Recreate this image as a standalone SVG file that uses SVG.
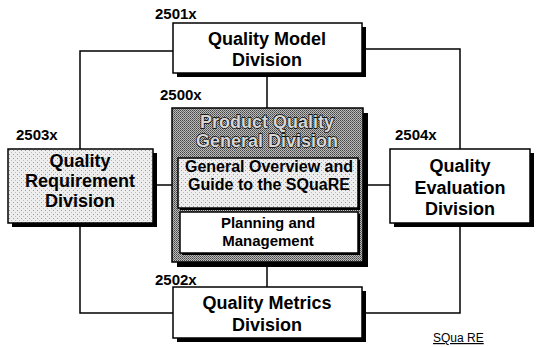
<svg xmlns="http://www.w3.org/2000/svg" width="537" height="347" viewBox="0 0 537 347">
<defs>
<pattern id="dither" width="2" height="2" patternUnits="userSpaceOnUse">
<rect width="2" height="2" fill="#bdbdbd"/>
<rect width="1" height="1" fill="#444"/>
<rect x="1" y="1" width="1" height="1" fill="#666"/>
</pattern>
<pattern id="speck" width="4" height="4" patternUnits="userSpaceOnUse">
<rect width="4" height="4" fill="#eeeeee"/>
<rect x="1" y="2" width="1" height="1" fill="#999"/>
<rect x="3" y="0" width="1" height="1" fill="#bbb"/>
</pattern>
</defs>
<style>
.box{stroke:#000;stroke-width:1.5}
.sh{fill:#000}
.lbl{font-family:"Liberation Sans",Arial,sans-serif;font-weight:bold;font-size:15px;fill:#000}
.t18{font-family:"Liberation Sans",Arial,sans-serif;font-weight:bold;font-size:18px;fill:#000;text-anchor:middle}
.t15{font-family:"Liberation Sans",Arial,sans-serif;font-weight:bold;font-size:15px;fill:#000;text-anchor:middle}
.emb{fill:#d6d6d6;stroke:#000;stroke-width:1.3;paint-order:stroke}
.con{fill:none;stroke:#000;stroke-width:1.5}
</style>
<rect width="537" height="347" fill="#fff"/>
<g id="connectors">
<polyline class="con" points="173,51 80,51 80,149"/>
<polyline class="con" points="362,49 460,49 460,149"/>
<polyline class="con" points="80,223 80,313 173,313"/>
<polyline class="con" points="362,313 460,313 460,223"/>
<line class="con" x1="153" y1="185" x2="172" y2="185"/>
<line class="con" x1="363" y1="185" x2="390" y2="185"/>
<line class="con" x1="267" y1="73" x2="267" y2="108"/>
<line class="con" x1="267" y1="262" x2="267" y2="287"/>
</g>
<g id="n2501">
<rect class="sh" x="177" y="27" width="189" height="50"/>
<rect class="box" x="173" y="23" width="189" height="50" fill="#fff"/>
<text class="t18" x="267" y="45">Quality Model</text>
<text class="t18" x="267" y="66">Division</text>
<text class="lbl" x="155" y="19">2501x</text>
</g>
<g id="n2500">
<rect class="sh" x="177" y="113" width="191" height="154"/>
<rect class="box" x="172" y="108" width="191" height="154" fill="url(#dither)"/>
<text class="t18 emb" x="267" y="128">Product Quality</text>
<text class="t18 emb" x="267" y="147">General Division</text>
<text class="lbl" x="160" y="100">2500x</text>
<g id="n2500a">
<rect class="sh" x="180" y="160" width="180" height="50"/>
<rect class="box" x="178" y="158" width="180" height="50" fill="url(#speck)"/>
<text class="t15" x="269" y="172" style="font-size:16px">General Overview and</text>
<text class="t15" x="269" y="190" style="font-size:16px">Guide to the SQuaRE</text>
</g>
<g id="n2500b">
<rect class="sh" x="182" y="214" width="178" height="41"/>
<rect class="box" x="180" y="212" width="178" height="41" fill="#fff"/>
<text class="t15" x="268" y="228">Planning and</text>
<text class="t15" x="268" y="246">Management</text>
</g>
</g>
<g id="n2503">
<rect class="sh" x="12" y="153" width="145" height="74"/>
<rect class="box" x="8" y="149" width="145" height="74" fill="url(#speck)"/>
<text class="t18" x="80" y="167">Quality</text>
<text class="t18" x="80" y="187">Requirement</text>
<text class="t18" x="80" y="207">Division</text>
<text class="lbl" x="16" y="140">2503x</text>
</g>
<g id="n2504">
<rect class="sh" x="394" y="153" width="140" height="74"/>
<rect class="box" x="390" y="149" width="140" height="74" fill="#fff"/>
<text class="t18" x="460" y="172">Quality</text>
<text class="t18" x="460" y="194">Evaluation</text>
<text class="t18" x="460" y="215">Division</text>
<text class="lbl" x="395" y="140">2504x</text>
</g>
<g id="n2502">
<rect class="sh" x="177" y="291" width="189" height="51"/>
<rect class="box" x="173" y="287" width="189" height="51" fill="#fff"/>
<text class="t18" x="267" y="309">Quality Metrics</text>
<text class="t18" x="267" y="331">Division</text>
<text class="lbl" x="155" y="285">2502x</text>
</g>
<text x="433" y="342" style="font-family:'Liberation Sans',Arial,sans-serif;font-size:12px;text-decoration:underline" fill="#000">SQua RE</text>
</svg>
